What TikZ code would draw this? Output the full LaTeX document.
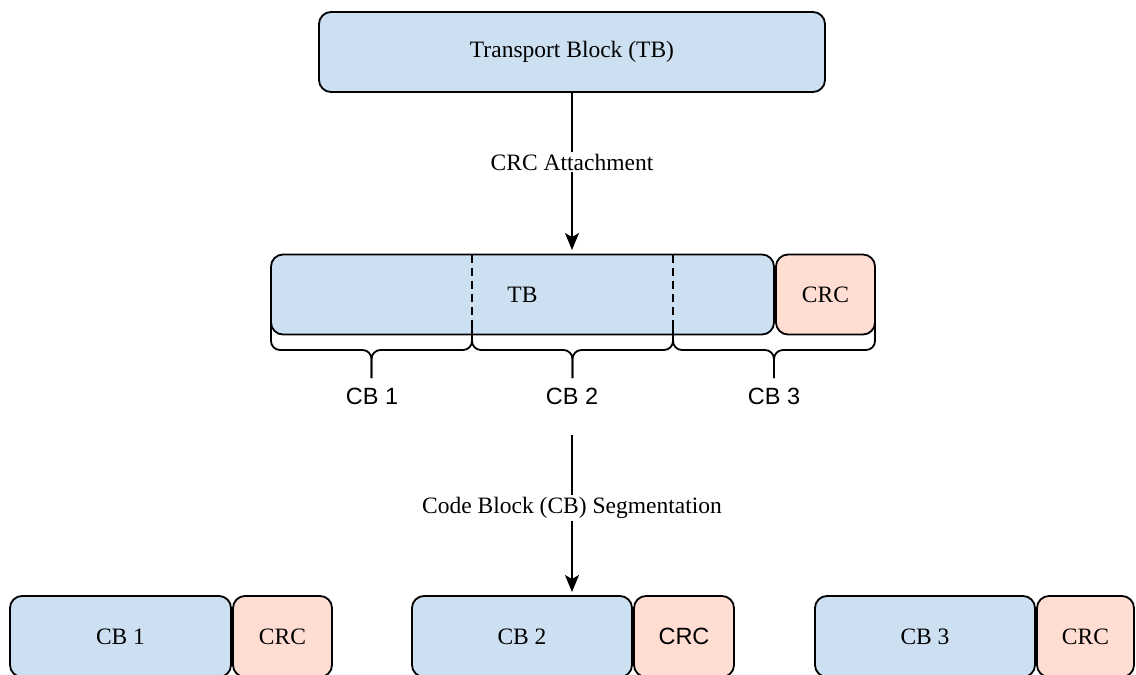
\documentclass[tikz,border=0pt]{standalone}
\usepackage{fontspec}
\setmainfont{Liberation Serif}
\setsansfont{Liberation Sans}
\usetikzlibrary{arrows.meta}
\definecolor{bfill}{RGB}{204,224,241}
\definecolor{rfill}{RGB}{255,221,210}
\tikzset{
  blk/.style={draw=black, line width=1.8pt, rounded corners=12pt, fill=bfill,
    inner sep=0pt, font=\fontsize{23.5}{28}\selectfont},
  crcblk/.style={blk, fill=rfill},
  lbl/.style={font=\fontsize{23.5}{28}\selectfont, fill=white, inner sep=2pt},
  cblbl/.style={font=\sffamily\fontsize{23.5}{28}\selectfont, inner sep=0pt},
  flow/.style={line width=1.8pt, -{Stealth[length=17pt,width=14pt,inset=4pt]}},
  bracestyle/.style={line width=1.8pt, rounded corners=9pt},
  divider/.style={line width=1.5pt, dash pattern=on 8pt off 5pt}
}
\begin{document}
\begin{tikzpicture}[x=1pt,y=-1pt]
\useasboundingbox (0,0) rectangle (1136,675);
\clip (0,0) rectangle (1136,675);

% top block
\node[blk, minimum width=506pt, minimum height=80pt] (top) at (572,52) {Transport Block (TB)};

% arrow 1
\coordinate (a1e) at (572,250);
\draw[flow] (top.south) -- (a1e);
\node[lbl] (l1) at (572,162) {CRC Attachment};

% TB + CRC row
\node[blk, minimum width=503pt, minimum height=80pt] (tb) at (522.5,294.5) {TB};
\node[crcblk, minimum width=99pt, minimum height=80pt] (crc) at (825.5,294.5) {CRC};
\coordinate (d1t) at (472,254.5);
\coordinate (d1b) at (472,334.5);
\coordinate (d2t) at (673,254.5);
\coordinate (d2b) at (673,334.5);
\draw[divider] (d1t) -- (d1b);
\draw[divider] (d2t) -- (d2b);

% braces
\foreach \a/\b in {271/472, 472/673, 673/875}{
  \pgfmathsetmacro{\m}{(\a+\b)/2}
  \draw[bracestyle] (\a,322) -- (\a,350) -- (\m,350) -- (\m,378);
  \draw[bracestyle] (\m,378) -- (\m,350) -- (\b,350) -- (\b,322);
}
\node[cblbl] (cb1l) at (372,396) {CB 1};
\node[cblbl] (cb2l) at (572,396) {CB 2};
\node[cblbl] (cb3l) at (774,396) {CB 3};

% arrow 2
\coordinate (a2s) at (572,435);
\coordinate (a2e) at (572,592);
\draw[flow] (a2s) -- (a2e);
\node[lbl] (l2) at (572,508) {Code Block (CB) Segmentation};

% bottom row
\node[blk, minimum width=221pt, minimum height=81pt] (cb1) at (120.5,636.5) {CB 1};
\node[crcblk, minimum width=99pt, minimum height=81pt] (crc1) at (282.5,636.5) {CRC};
\node[blk, minimum width=220pt, minimum height=81pt] (cb2) at (522,636.5) {CB 2};
\node[crcblk, minimum width=100pt, minimum height=81pt, font=\sffamily\fontsize{23.5}{28}\selectfont] (crc2) at (684,636.5) {CRC};
\node[blk, minimum width=220pt, minimum height=81pt] (cb3) at (925,636.5) {CB 3};
\node[crcblk, minimum width=97pt, minimum height=81pt] (crc3) at (1085.5,636.5) {CRC};
\end{tikzpicture}
\end{document}
